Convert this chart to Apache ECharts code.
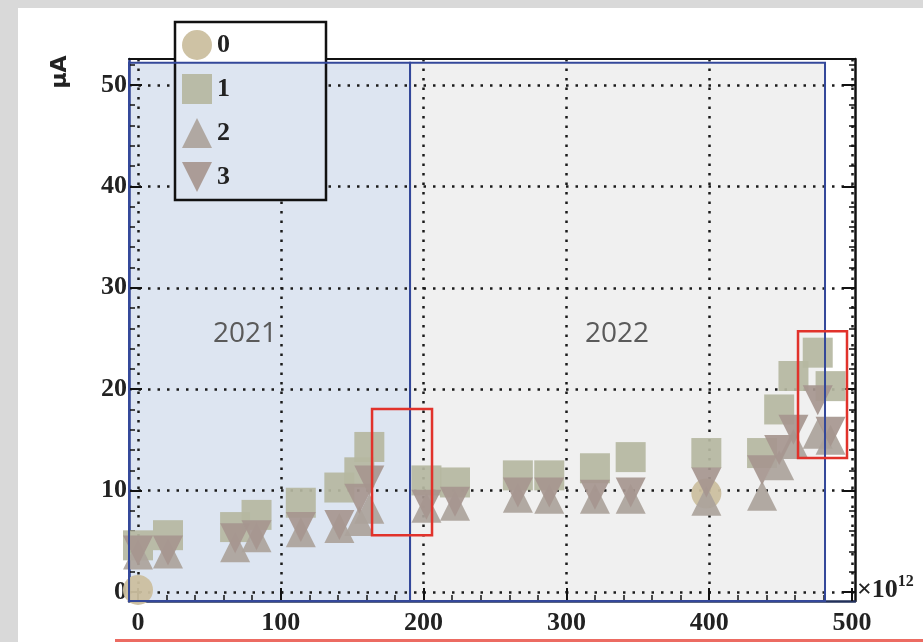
<!DOCTYPE html>
<html>
<head>
<meta charset="utf-8">
<script src="https://cdn.jsdelivr.net/npm/echarts@6/dist/echarts.min.js"></script>
<style>
  html, body { margin: 0; padding: 0; background: #d9d9d9; width: 923px; height: 642px; overflow: hidden; }
  #panel { position: absolute; left: 18px; top: 8px; width: 905px; height: 634px; background: #ffffff; }
  #redline { position: absolute; left: 115px; top: 639px; width: 808px; height: 3px; background: #ec6b62; }
  #c { position: absolute; left: 0; top: 0; width: 923px; height: 642px; }
</style>
</head>
<body>
<div id="panel"></div>
<div id="redline"></div>
<div id="c"></div>
<script>
// ---- axis ranges and ticks ----
const X_MIN = -6.3, X_MAX = 502.1;
const Y_MIN = -0.89, Y_MAX = 52.56;
const xMajorTicks = [0, 100, 200, 300, 400, 500];
const xMinorTicks = [20, 40, 60, 80, 120, 140, 160, 180, 220, 240, 260, 280, 320, 340, 360, 380, 420, 440, 460, 480];
const yMajorTicks = [0, 10, 20, 30, 40, 50];
const yMinorTicks = [2, 4, 6, 8, 12, 14, 16, 18, 22, 24, 26, 28, 32, 34, 36, 38, 42, 44, 46, 48, 52];

// ---- series data ----
const seriesNames = ['0', '1', '2', '3'];
const s0Points = [[0, 0.2], [398, 9.7]];
const xClusters = [0, 21, 68, 83, 114, 141, 155, 162, 202, 222, 266, 288, 320, 345, 398, 437, 449, 459, 476, 485];
const s1Vals = [4.6, 5.6, 6.4, 7.6, 8.8, 10.3, 11.8, 14.3, 11.0, 10.8, 11.5, 11.5, 12.2, 13.3, 13.7, 13.7, 18.0, 21.3, 23.6, 20.3];
const s2Vals = [3.7, 3.8, 4.4, 5.4, 5.9, 6.3, 7.0, 8.2, 8.3, 8.5, 9.3, 9.2, 9.2, 9.2, 9.0, 9.5, 12.5, 14.6, 15.6, 15.0];
const s3Vals = [4.1, 4.1, 5.3, 5.6, 6.4, 6.6, 9.2, 11.0, 8.6, 8.9, 9.8, 9.8, 9.6, 9.8, 10.8, 12.0, 14.0, 16.0, 18.9, 15.8];

// ---- annotation regions (data coordinates) ----
const yearRegions = [
  { label: '2021', x0: -6.3, x1: 190.5, y0: -0.89, y1: 52.2, fill: '#dde5f1' },
  { label: '2022', x0: 190.5, x1: 481.1, y0: -0.89, y1: 52.2, fill: '#f0f0f0' }
];
const highlightBoxes = [
  { x0: 163.9, x1: 205.9, y0: 5.6, y1: 18.05 },
  { x0: 462.2, x1: 496.5, y0: 13.2, y1: 25.7 }
];

const serifLabel = { fontFamily: 'Liberation Serif', fontWeight: 'bold', fontSize: 26, color: '#222' };
const DOWN_TRI = 'path://M0,0L10,0L5,10Z';
const AXIS_Z = 2;

const chart = echarts.init(document.getElementById('c'), null, { renderer: 'canvas' });

const option = {
  backgroundColor: 'transparent',
  animation: false,
  grid: { left: 129, right: 68, top: 59, bottom: 41, containLabel: false },
  legend: {
    orient: 'vertical',
    left: 175, top: 22,
    padding: [8, 96, 8, 7],
    itemWidth: 30, itemHeight: 30, itemGap: 14,
    borderColor: '#111', borderWidth: 2.5,
    backgroundColor: {
      type: 'linear', x: 0, y: 0, x2: 0, y2: 1,
      colorStops: [
        { offset: 0, color: '#ffffff' }, { offset: 0.23, color: '#ffffff' },
        { offset: 0.23, color: '#dde5f1' }, { offset: 1, color: '#dde5f1' }
      ]
    },
    textStyle: { fontFamily: 'Liberation Serif', fontWeight: 'bold', fontSize: 26, color: '#222' },
    data: [
      { name: seriesNames[0], icon: 'circle' },
      { name: seriesNames[1], icon: 'rect' },
      { name: seriesNames[2], icon: 'triangle' },
      { name: seriesNames[3], icon: DOWN_TRI }
    ],
    z: 5
  },
  xAxis: [
    {
      type: 'value', position: 'bottom', min: X_MIN, max: X_MAX, z: AXIS_Z,
      axisLine: { show: true, onZero: false, lineStyle: { color: '#22305a', width: 2.5 } },
      axisTick: { show: true, inside: true, length: 13, customValues: xMajorTicks, lineStyle: { color: '#111', width: 2 } },
      axisLabel: Object.assign({ customValues: xMajorTicks, margin: 9 }, serifLabel),
      splitLine: { show: true, lineStyle: { type: [2.5, 7], color: '#1a1a1a', width: 2.5 } }
    },
    {
      type: 'value', position: 'bottom', min: X_MIN, max: X_MAX, z: AXIS_Z,
      axisLine: { show: false, onZero: false },
      axisTick: { show: true, inside: true, length: 6, customValues: xMinorTicks, lineStyle: { color: '#111', width: 1.5 } },
      axisLabel: { show: false },
      splitLine: { show: false }
    },
    {
      type: 'value', position: 'top', min: X_MIN, max: X_MAX, z: AXIS_Z,
      axisLine: { show: true, onZero: false, lineStyle: { color: '#111', width: 2 } },
      axisTick: { show: false }, axisLabel: { show: false }, splitLine: { show: false }
    }
  ],
  yAxis: [
    {
      type: 'value', position: 'left', min: Y_MIN, max: Y_MAX, z: AXIS_Z,
      axisLine: { show: true, onZero: false, lineStyle: { color: '#2d3f8f', width: 2.5 } },
      axisTick: { show: true, inside: true, length: 13, customValues: yMajorTicks, lineStyle: { color: '#111', width: 2 } },
      axisLabel: Object.assign({ customValues: yMajorTicks, margin: 2 }, serifLabel),
      splitLine: { show: true, lineStyle: { type: [2.5, 7], color: '#1a1a1a', width: 2.5 } }
    },
    {
      type: 'value', position: 'left', min: Y_MIN, max: Y_MAX, z: AXIS_Z,
      axisLine: { show: false, onZero: false },
      axisTick: { show: true, inside: true, length: 6, customValues: yMinorTicks, lineStyle: { color: '#111', width: 1.5 } },
      axisLabel: { show: false }, splitLine: { show: false }
    },
    {
      type: 'value', position: 'right', min: Y_MIN, max: Y_MAX, z: AXIS_Z,
      axisLine: { show: true, onZero: false, lineStyle: { color: '#111', width: 2.5 } },
      axisTick: { show: true, inside: true, length: 13, customValues: yMajorTicks, lineStyle: { color: '#111', width: 2 } },
      axisLabel: { show: false }, splitLine: { show: false }
    },
    {
      type: 'value', position: 'right', min: Y_MIN, max: Y_MAX, z: AXIS_Z,
      axisLine: { show: false, onZero: false },
      axisTick: { show: true, inside: true, length: 6, customValues: yMinorTicks, lineStyle: { color: '#111', width: 1.5 } },
      axisLabel: { show: false }, splitLine: { show: false }
    }
  ],
  graphic: [
    { type: 'text', x: 60, y: 72, rotation: Math.PI / 2, z: 10,
      style: { text: 'μA', font: 'bold 22px "DejaVu Sans"', fill: '#222', align: 'center', verticalAlign: 'middle' } },
    { type: 'text', x: 857, y: 590, z: 10,
      style: { text: '×10{s|12}', align: 'left', verticalAlign: 'middle',
        font: 'bold 26px "Liberation Serif"', fill: '#222',
        rich: { s: { font: 'bold 16px "Liberation Serif"', fill: '#222', padding: [0, 0, 16, 0] } } } },
    { type: 'text', x: 245, y: 334, z: 10,
      style: { text: yearRegions[0].label, font: '28px "Open Sans"', fill: '#5a5a5a', align: 'center', verticalAlign: 'middle' } },
    { type: 'text', x: 617, y: 334, z: 10,
      style: { text: yearRegions[1].label, font: '28px "Open Sans"', fill: '#5a5a5a', align: 'center', verticalAlign: 'middle' } }
  ],
  series: [
    {
      name: '__regions', type: 'scatter', data: [], z: 1, silent: true,
      markArea: {
        silent: true, z: 1,
        data: yearRegions.map(r => [
          { xAxis: r.x0, yAxis: r.y0, itemStyle: { color: r.fill, borderWidth: 0 } },
          { xAxis: r.x1, yAxis: r.y1 }
        ])
      }
    },
    { name: seriesNames[0], type: 'scatter', symbol: 'circle', symbolSize: 30, z: 3,
      itemStyle: { color: '#cbbf9f', opacity: 0.95 }, data: s0Points },
    { name: seriesNames[1], type: 'scatter', symbol: 'rect', symbolSize: 30, z: 3,
      itemStyle: { color: '#b5b7a1', opacity: 0.92 }, data: xClusters.map((x, i) => [x, s1Vals[i]]) },
    { name: seriesNames[2], type: 'scatter', symbol: 'triangle', symbolSize: 30, z: 3,
      itemStyle: { color: '#aba39b', opacity: 0.92 }, data: xClusters.map((x, i) => [x, s2Vals[i]]) },
    { name: seriesNames[3], type: 'scatter', symbol: DOWN_TRI, symbolSize: 30, z: 3,
      itemStyle: { color: '#a6968f', opacity: 0.92 }, data: xClusters.map((x, i) => [x, s3Vals[i]]) },
    {
      name: '__outlines', type: 'scatter', data: [], z: 6, silent: true,
      markArea: {
        silent: true, z: 6,
        data: yearRegions.map(r => [
          { xAxis: r.x0, yAxis: r.y0, itemStyle: { color: 'rgba(0,0,0,0)', borderColor: '#34489a', borderWidth: 2 } },
          { xAxis: r.x1, yAxis: r.y1 }
        ]).concat(highlightBoxes.map(b => [
          { xAxis: b.x0, yAxis: b.y0, itemStyle: { color: 'rgba(0,0,0,0)', borderColor: '#e1322b', borderWidth: 2.5 } },
          { xAxis: b.x1, yAxis: b.y1 }
        ]))
      }
    }
  ]
};
chart.setOption(option);
</script>
</body>
</html>
